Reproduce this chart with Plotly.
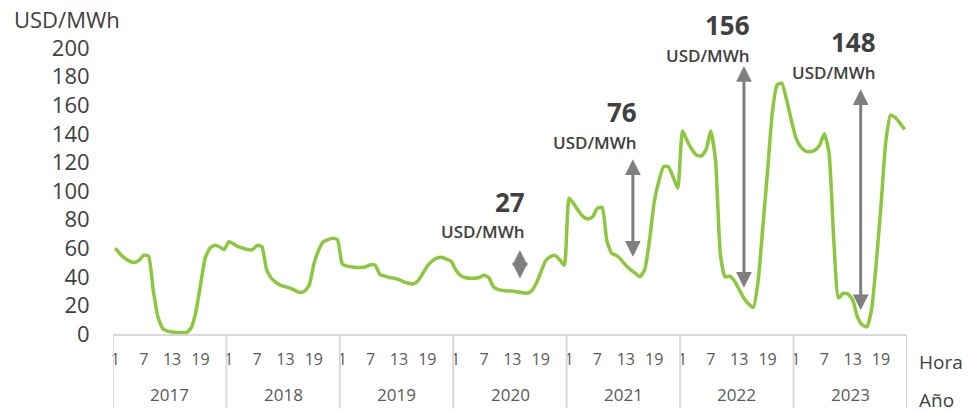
import plotly.graph_objects as go

# Datos: precio medio por hora del dia (USD/MWh) para cada año
anios = [2017, 2018, 2019, 2020, 2021, 2022, 2023]
horas = list(range(1, 25))
horas_etiqueta = [1, 7, 13, 19]

precio_2017 = [60, 56, 53, 51, 50, 51.5, 55, 54.5, 31, 12, 4, 2, 1.5, 1, 1, 1,
               4, 15, 34, 53, 60, 62, 61, 59]
precio_2018 = [64.5, 63, 61, 60, 59, 59, 62, 61, 45, 39, 36, 34, 33, 32, 30.5, 29,
               30, 34, 49, 58.5, 64.5, 66, 67, 66]
precio_2019 = [49, 47.5, 47, 46.5, 46.5, 47, 48.5, 48, 41.5, 40.5, 39.5, 39, 38, 36.5,
               35.5, 35, 37, 42, 47.5, 51, 53, 53.6, 52.5, 51]
precio_2020 = [45, 41, 39.5, 39, 39, 39.5, 41, 39.5, 33, 31, 30.5, 30, 30, 29.5, 29,
               28.5, 30, 35, 43, 51, 54, 55, 52, 48]
precio_2021 = [95, 91, 86, 82, 80.5, 82, 88, 88.5, 65, 56.5, 55, 52, 48, 45, 42.5, 40,
               45, 65, 92, 107, 117, 117, 110, 102]
precio_2022 = [142, 135, 129, 125, 124.5, 129, 142, 121, 56, 40, 40.5, 37, 31, 25, 21,
               18.6, 37, 75, 114, 155, 174, 175.5, 164, 150]
precio_2023 = [137, 131, 128, 127.5, 128.5, 132, 140, 127, 66, 25, 28.5, 28, 24, 12,
               6.5, 5, 17, 50, 90, 134, 153, 151.5, 147.5, 143]

# Diferencia max-min de los ultimos años (USD/MWh)
diferencias = [27, 76, 156, 148]

precios = (precio_2017 + precio_2018 + precio_2019 + precio_2020
           + precio_2021 + precio_2022 + precio_2023)

n = len(horas)
x = list(range(len(anios) * n))
tickvals = [i for i in x if horas[i % n] in horas_etiqueta]
ticktext = [str(horas[i % n]) for i in tickvals]

gris = "#D9D9D9"
texto = "#404040"
fuente = "Open Sans"

fig = go.Figure()
fig.add_trace(go.Scatter(
    x=x, y=precios, mode="lines",
    line=dict(color="#8DC63F", width=3.5, shape="spline", smoothing=0.5),
    hoverinfo="skip", showlegend=False,
))

fig.update_layout(
    width=968, height=412,
    margin=dict(l=113, r=61, t=48, b=78),
    plot_bgcolor="white", paper_bgcolor="white",
    font=dict(family=fuente, color=texto),
    xaxis=dict(
        range=[-0.5, len(x) - 0.5], tickvals=tickvals, ticktext=ticktext,
        showgrid=False, zeroline=False, showline=True, linecolor=gris, linewidth=2,
        ticks="outside", ticklen=10, tickcolor="rgba(0,0,0,0)",
        tickfont=dict(size=16, color="#595959"),
    ),
    yaxis=dict(
        range=[0, 200], dtick=20, showgrid=False, zeroline=False, showline=False,
        ticks="outside", ticklen=18, tickcolor="rgba(0,0,0,0)",
        tickfont=dict(size=22, color=texto),
    ),
)

# Separadores de año y etiquetas de año
for k, anio in enumerate(anios + [None]):
    fig.add_shape(type="line", xref="x", yref="paper", x0=k * n - 0.5, x1=k * n - 0.5,
                  y0=0, y1=-0.26, line=dict(color=gris, width=2))
    if anio is not None:
        fig.add_annotation(x=k * n + (n - 1) / 2, y=-0.21, xref="x", yref="paper",
                           yanchor="middle", text=str(anio), showarrow=False,
                           font=dict(size=17, color="#595959"))

fig.add_annotation(x=1.012, y=-0.098, xref="paper", yref="paper", xanchor="left",
                   yanchor="middle", text="Hora", showarrow=False,
                   font=dict(size=19, color=texto))
fig.add_annotation(x=1.012, y=-0.231, xref="paper", yref="paper", xanchor="left",
                   yanchor="middle", text="Año", showarrow=False,
                   font=dict(size=19, color=texto))
fig.add_annotation(x=-0.127, y=1.103, xref="paper", yref="paper", xanchor="left",
                   yanchor="middle", text="USD/MWh", showarrow=False,
                   font=dict(size=22, color=texto))

# Flechas dobles (amplitud diaria) y sus etiquetas
flechas = [(85.6, 58.7, 37.8), (109.5, 122.2, 52.9), (133.0, 187.4, 31.3), (157.7, 171.1, 15.6)]
etiquetas = [(87.1, 0.4615, 0.3601), (110.8, 0.7762, 0.6713),
             (134.8, 1.0804, 0.9755), (161.4, 1.021, 0.9143)]

for (xa, y1, y0), (xt, yv, yu), d in zip(flechas, etiquetas, diferencias):
    fig.add_annotation(x=xa, y=y1, ax=xa, ay=y0, xref="x", yref="y", axref="x", ayref="y",
                       text="", showarrow=True, arrowside="end+start",
                       arrowhead=2, startarrowhead=2, arrowwidth=3,
                       arrowsize=1.05, startarrowsize=1.05, arrowcolor="#7F7F7F")
    fig.add_annotation(x=xt, y=yv, xref="x", yref="paper", xanchor="right",
                       yanchor="middle", text=f"<b>{d}</b>", showarrow=False,
                       font=dict(size=26, color=texto))
    fig.add_annotation(x=xt, y=yu, xref="x", yref="paper", xanchor="right",
                       yanchor="middle", text="USD/MWh", showarrow=False,
                       font=dict(size=17, color=texto, weight=600))

fig.write_html("out.html", config={"displayModeBar": False},
               post_script="document.body.style.margin='0px';")
